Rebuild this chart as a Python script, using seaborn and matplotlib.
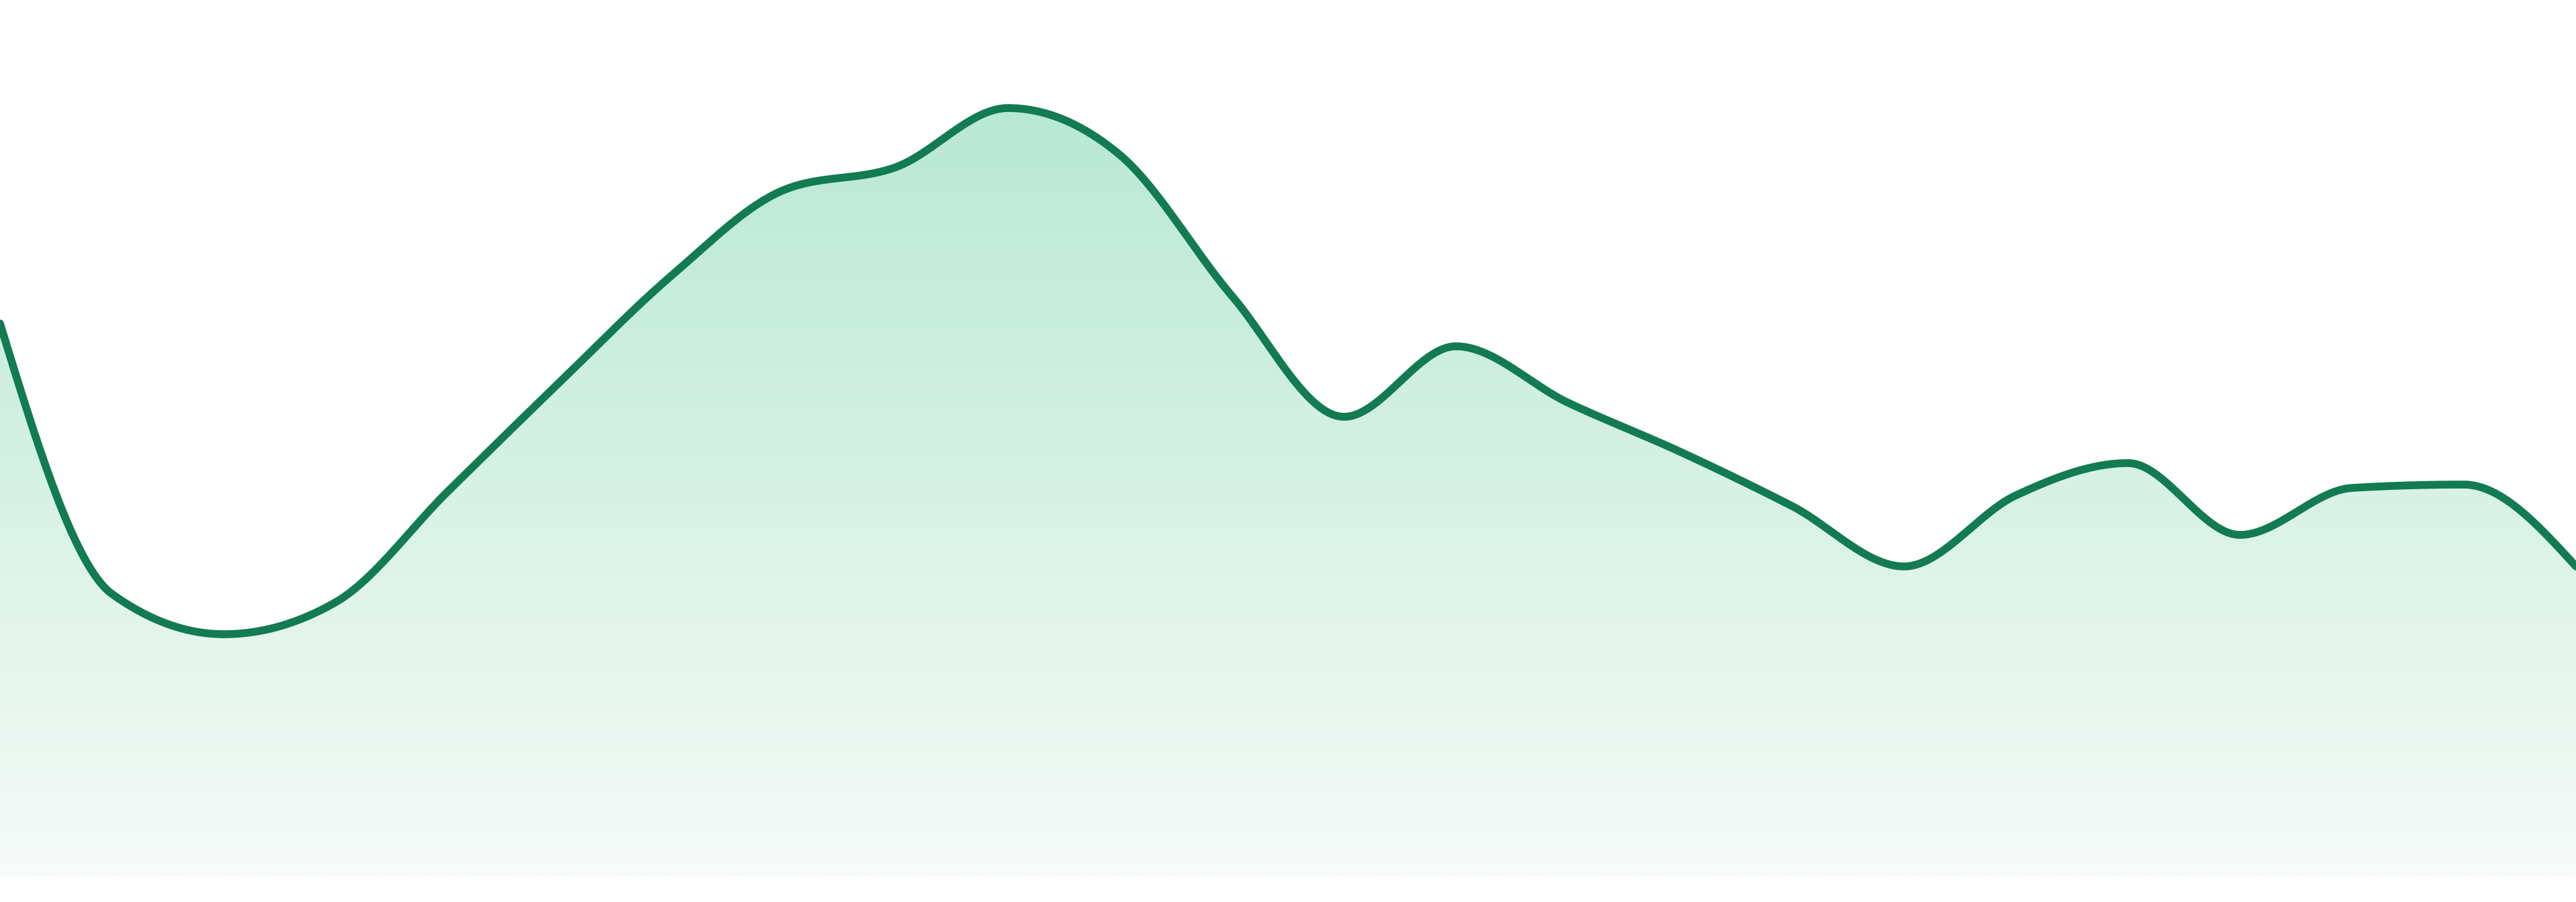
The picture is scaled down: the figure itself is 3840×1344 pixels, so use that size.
import numpy as np
import pandas as pd
import matplotlib
matplotlib.use("Agg")
import matplotlib.pyplot as plt
from matplotlib.colors import LinearSegmentedColormap
import seaborn as sns

# valorile (24 de puncte, echidistante)
steps = list(range(24))
values = [82.3, 42.0, 36.0, 40.8, 57.3, 73.6, 89.5, 102.2, 105.6, 114.4, 107.4, 86.4,
          68.4, 78.9, 70.5, 63.2, 55.1, 46.1, 56.7, 61.5, 50.8, 57.8, 58.3, 46.1]

LINE_COLOR = "#127b52"
FILL_TOP = "#b8e8d3"
FILL_BOTTOM = "#f7fbf9"


# interpolare monotona (ca d3.curveMonotoneX)
def monotone_curve(x, y, per_seg=60):
    x = np.asarray(x, dtype=float)
    y = np.asarray(y, dtype=float)
    h = np.diff(x)
    s = np.diff(y) / h
    n = len(x)
    t = np.zeros(n)
    for i in range(1, n - 1):
        p = (s[i - 1] * h[i] + s[i] * h[i - 1]) / (h[i - 1] + h[i])
        t[i] = (np.sign(s[i - 1]) + np.sign(s[i])) * min(abs(s[i - 1]), abs(s[i]), 0.5 * abs(p))
    t[0] = (3 * s[0] - t[1]) / 2
    t[-1] = (3 * s[-1] - t[-2]) / 2
    xs, ys = [], []
    for i in range(n - 1):
        u = np.linspace(0, 1, per_seg, endpoint=(i == n - 2))
        h00 = 2 * u**3 - 3 * u**2 + 1
        h10 = u**3 - 2 * u**2 + u
        h01 = -2 * u**3 + 3 * u**2
        h11 = u**3 - u**2
        xs.append(x[i] + u * h[i])
        ys.append(h00 * y[i] + h10 * h[i] * t[i] + h01 * y[i + 1] + h11 * h[i] * t[i + 1])
    return np.concatenate(xs), np.concatenate(ys)


cx, cy = monotone_curve(steps, values)
df = pd.DataFrame({"step": cx, "value": cy})

sns.set_theme(style="white")
fig = plt.figure(figsize=(38.4, 13.44), dpi=100)
ax = fig.add_axes([0, 0, 1, 1])

y_max = max(values)
# gradient vertical pentru zona de sub linie
cmap = LinearSegmentedColormap.from_list("fade", [FILL_BOTTOM, FILL_TOP])
grad = np.linspace(0, 1, 512).reshape(-1, 1)
img = ax.imshow(grad, cmap=cmap, aspect="auto", origin="lower",
                extent=[steps[0], steps[-1], 0, y_max], zorder=1, interpolation="bilinear")
poly = ax.fill_between(df["step"], df["value"], 0, color="none", lw=0)
clip = poly.get_paths()[0]
img.set_clip_path(clip, transform=ax.transData)

sns.lineplot(data=df, x="step", y="value", ax=ax, color=LINE_COLOR, linewidth=8.4,
             zorder=3, sort=False, estimator=None)
ax.lines[-1].set_solid_capstyle("round")
ax.lines[-1].set_solid_joinstyle("round")

ax.set_xlim(steps[0], steps[-1])
ax.set_ylim(-3.9, 130.5)
ax.set_axis_off()

fig.savefig("out.png", dpi=100, facecolor="white")
